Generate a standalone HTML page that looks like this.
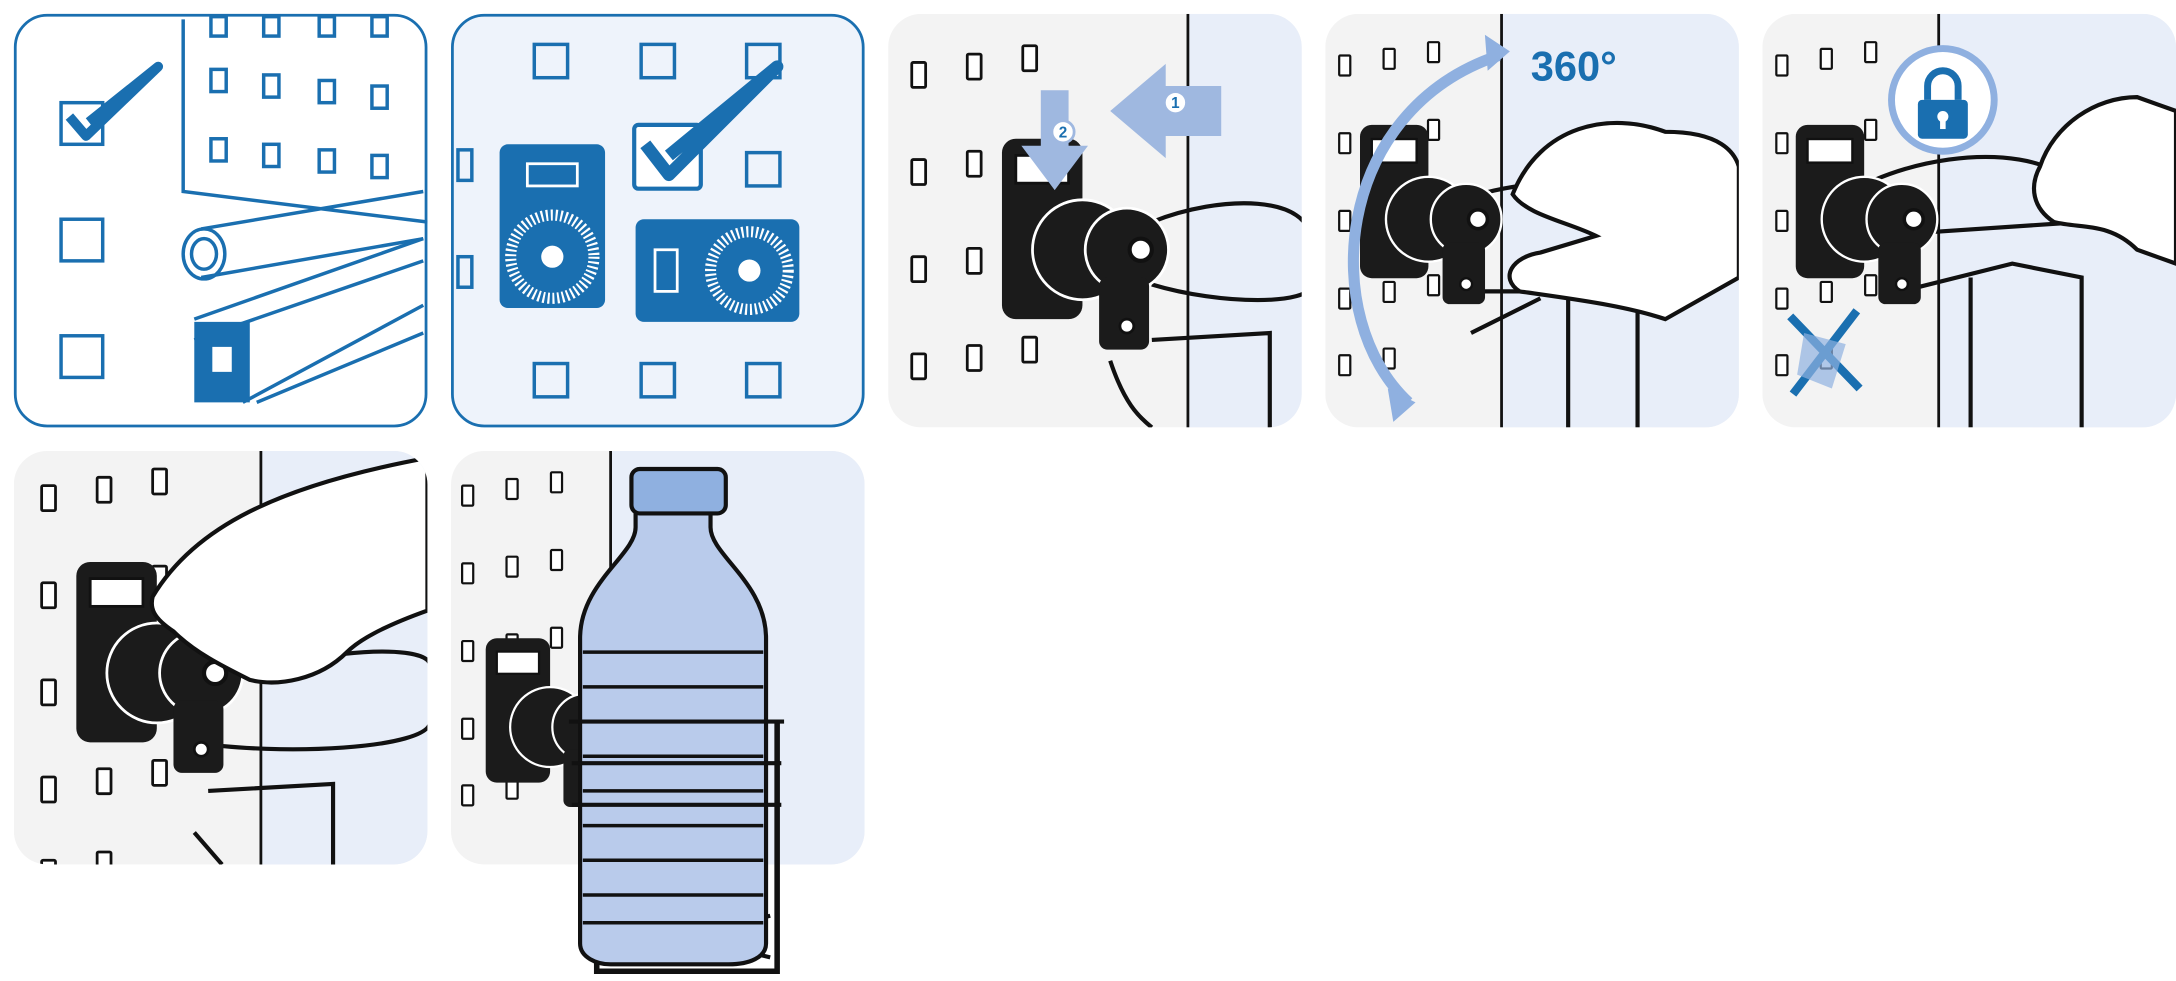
<!DOCTYPE html>
<html><head><meta charset="utf-8"><style>
html,body{margin:0;padding:0;background:#fff;width:2176px;height:981px;overflow:hidden}
svg{display:block}
</style></head><body>
<svg width="2176" height="981" viewBox="0 0 1568 707" preserveAspectRatio="none" xmlns="http://www.w3.org/2000/svg">
<defs>
<clipPath id="c1"><rect x="10" y="10" width="298" height="298" rx="24"/></clipPath>
<clipPath id="c2"><rect x="325" y="10" width="298" height="298" rx="24"/></clipPath>
<clipPath id="c3"><rect x="640" y="10" width="298" height="298" rx="24"/></clipPath>
<clipPath id="c4"><rect x="955" y="10" width="298" height="298" rx="24"/></clipPath>
<clipPath id="c5"><rect x="1270" y="10" width="298" height="298" rx="24"/></clipPath>
<clipPath id="c6"><rect x="10" y="325" width="298" height="298" rx="24"/></clipPath>
<clipPath id="c7"><rect x="325" y="325" width="298" height="298" rx="24"/></clipPath>
<g id="holes" fill="#fff" stroke="#111" stroke-width="2">
<rect x="0" y="0" width="10" height="18" rx="1"/><rect x="40" y="-6" width="10" height="18" rx="1"/><rect x="80" y="-12" width="10" height="18" rx="1"/>
<rect x="0" y="70" width="10" height="18" rx="1"/><rect x="40" y="64" width="10" height="18" rx="1"/><rect x="80" y="58" width="10" height="18" rx="1"/>
<rect x="0" y="140" width="10" height="18" rx="1"/><rect x="40" y="134" width="10" height="18" rx="1"/><rect x="80" y="128" width="10" height="18" rx="1"/>
<rect x="0" y="210" width="10" height="18" rx="1"/><rect x="40" y="204" width="10" height="18" rx="1"/><rect x="80" y="198" width="10" height="18" rx="1"/>
<rect x="0" y="270" width="10" height="18" rx="1"/><rect x="40" y="264" width="10" height="18" rx="1"/>
</g>
<g id="dev">
<rect x="0" y="0" width="58" height="130" rx="10" fill="#1b1b1b"/>
<rect x="10" y="12" width="38" height="20" fill="#fff" stroke="#111" stroke-width="2"/>
<circle cx="58" cy="80" r="36" fill="#1b1b1b" stroke="#fff" stroke-width="2"/>
<circle cx="90" cy="80" r="30" fill="#1b1b1b" stroke="#fff" stroke-width="2"/>
<circle cx="100" cy="80" r="8" fill="#fff" stroke="#111" stroke-width="3"/>
<rect x="70" y="100" width="36" height="52" rx="6" fill="#1b1b1b"/>
<circle cx="90" cy="135" r="5" fill="#fff" stroke="#111" stroke-width="2"/>
</g>
</defs>

<!-- Panel 1 -->
<g clip-path="url(#c1)">
<rect x="10" y="10" width="298" height="298" fill="#fff"/>
<g fill="none" stroke="#1a6fb0" stroke-width="2.5">
<path d="M132 14 V138 L308 160"/>
<rect x="152" y="12" width="11" height="14"/><rect x="190" y="12" width="11" height="14"/><rect x="230" y="12" width="11" height="14"/><rect x="268" y="12" width="11" height="14"/>
<rect x="152" y="50" width="11" height="16"/><rect x="190" y="54" width="11" height="16"/><rect x="230" y="58" width="11" height="16"/><rect x="268" y="62" width="11" height="16"/>
<rect x="152" y="100" width="11" height="16"/><rect x="190" y="104" width="11" height="16"/><rect x="230" y="108" width="11" height="16"/><rect x="268" y="112" width="11" height="16"/>
<path d="M145 165 L305 138 M145 200 L305 172"/>
<ellipse cx="147" cy="183" rx="15" ry="18"/><ellipse cx="147" cy="183" rx="9" ry="11"/>
<path d="M140 230 L305 172 M140 245 L305 188 M175 290 L305 220 M185 290 L305 240"/>
</g>
<path d="M140 232 h40 v58 h-40z" fill="#1a6fb0"/>
<rect x="153" y="250" width="14" height="18" fill="#fff"/>
<g fill="#fff" stroke="#1a6fb0" stroke-width="2.5">
<rect x="44" y="74" width="30" height="30"/><rect x="44" y="158" width="30" height="30"/><rect x="44" y="242" width="30" height="30"/>
</g>
<path d="M50 84 L62 98 L114 48 L64 88" fill="none" stroke="#1a6fb0" stroke-width="7" stroke-linejoin="round"/>
</g>
<rect x="11" y="11" width="296" height="296" rx="23" fill="none" stroke="#1a6fb0" stroke-width="2"/>

<!-- Panel 2 -->
<g clip-path="url(#c2)">
<rect x="325" y="10" width="298" height="298" fill="#eef3fb"/>
<g fill="none" stroke="#1a6fb0" stroke-width="2.5">
<rect x="385" y="32" width="24" height="24"/><rect x="462" y="32" width="24" height="24"/><rect x="538" y="32" width="24" height="24"/>
<rect x="538" y="110" width="24" height="24"/>
<rect x="385" y="262" width="24" height="24"/><rect x="462" y="262" width="24" height="24"/><rect x="538" y="262" width="24" height="24"/>
<rect x="330" y="108" width="10" height="22"/><rect x="330" y="185" width="10" height="22"/>
</g>
<rect x="360" y="104" width="76" height="118" rx="6" fill="#1a6fb0"/>
<rect x="380" y="118" width="36" height="16" fill="none" stroke="#fff" stroke-width="2"/>
<circle cx="398" cy="185" r="30" fill="none" stroke="#fff" stroke-width="8" stroke-dasharray="1.5 2"/>
<circle cx="398" cy="185" r="8" fill="#fff"/>
<rect x="458" y="158" width="118" height="74" rx="6" fill="#1a6fb0"/>
<rect x="472" y="180" width="16" height="30" fill="none" stroke="#fff" stroke-width="2"/>
<circle cx="540" cy="195" r="28" fill="none" stroke="#fff" stroke-width="8" stroke-dasharray="1.5 2"/>
<circle cx="540" cy="195" r="8" fill="#fff"/>
<rect x="457" y="90" width="48" height="46" rx="3" fill="#fff" stroke="#1a6fb0" stroke-width="3"/>
<path d="M465 104 L482 126 L560 48 L482 112" fill="none" stroke="#1a6fb0" stroke-width="9" stroke-linejoin="round"/>
</g>
<rect x="326" y="11" width="296" height="296" rx="23" fill="none" stroke="#1a6fb0" stroke-width="2"/>

<!-- Panel 3 -->
<g clip-path="url(#c3)">
<rect x="640" y="10" width="298" height="298" fill="#f3f3f3"/>
<rect x="856" y="10" width="90" height="298" fill="#e8eef9"/>
<line x1="856" y1="10" x2="856" y2="308" stroke="#111" stroke-width="2"/>
<use href="#holes" transform="translate(657,45)"/>
<path d="M830 160 C880 140 945 140 945 175 M830 205 C880 220 945 220 945 205 M830 245 L915 240 V308 M800 260 C810 290 820 300 830 308" fill="none" stroke="#111" stroke-width="3"/>
<use href="#dev" transform="translate(722,100)"/>
<path d="M750 65 h20 v40 h14 l-24 32 l-24 -32 h14z" fill="#9fb8e0"/>
<circle cx="766" cy="95" r="8" fill="#fff" stroke="#9fb8e0" stroke-width="2"/><text x="766" y="99" font-family="Liberation Sans" font-size="11" font-weight="bold" fill="#1a6fb0" text-anchor="middle">2</text>
<path d="M880 62 v36 h-40 v16 l-40 -34 l40 -34 v16z" fill="#9fb8e0"/>
<circle cx="847" cy="74" r="8" fill="#fff" stroke="#9fb8e0" stroke-width="2"/><text x="847" y="78" font-family="Liberation Sans" font-size="11" font-weight="bold" fill="#1a6fb0" text-anchor="middle">1</text>
</g>

<!-- Panel 4 -->
<g clip-path="url(#c4)">
<rect x="955" y="10" width="298" height="298" fill="#f3f3f3"/>
<rect x="1082" y="10" width="180" height="298" fill="#e8eef9"/>
<line x1="1082" y1="10" x2="1082" y2="308" stroke="#111" stroke-width="2"/>
<use href="#holes" transform="translate(965,40) scale(0.8)"/>
<path d="M1040 150 C1100 120 1200 130 1190 160 M1040 210 L1180 210 V308 M1060 240 L1110 215 M1130 215 V308" fill="none" stroke="#111" stroke-width="3"/>
<use href="#dev" transform="translate(980,90) scale(0.85)"/>
<path d="M1090 140 C1110 90 1160 80 1200 95 C1240 95 1250 110 1253 120 V200 L1200 230 C1170 220 1130 215 1095 210 C1080 200 1090 185 1110 182 L1150 170 C1130 160 1100 155 1090 140Z" fill="#fff" stroke="#111" stroke-width="3"/>
<path d="M1015 290 C950 230 960 80 1080 40" fill="none" stroke="#8fb0e0" stroke-width="8"/>
<path d="M1070 25 l18 12 -16 14z M1000 280 l20 10 -16 14z" fill="#8fb0e0"/>
<text x="1103" y="58" font-family="Liberation Sans" font-size="30" font-weight="bold" fill="#1a6fb0">360°</text>
</g>

<!-- Panel 5 -->
<g clip-path="url(#c5)">
<rect x="1270" y="10" width="298" height="298" fill="#f3f3f3"/>
<rect x="1397" y="10" width="180" height="298" fill="#e8eef9"/>
<line x1="1397" y1="10" x2="1397" y2="308" stroke="#111" stroke-width="2"/>
<use href="#holes" transform="translate(1280,40) scale(0.8)"/>
<path d="M1350 130 C1420 100 1510 110 1500 160 M1350 170 L1500 160 M1370 210 L1450 190 L1500 200 V308 M1420 200 V308" fill="none" stroke="#111" stroke-width="3"/>
<use href="#dev" transform="translate(1294,90) scale(0.85)"/>
<path d="M1470 120 C1480 90 1510 70 1540 70 L1568 80 V190 L1540 180 C1520 160 1500 165 1480 160 C1465 150 1462 135 1470 120Z" fill="#fff" stroke="#111" stroke-width="3"/>
<circle cx="1400" cy="72" r="37" fill="#fff" stroke="#8fb0e0" stroke-width="5"/>
<rect x="1382" y="72" width="36" height="28" rx="3" fill="#1a6fb0"/>
<path d="M1389 72 v-10 a11 11 0 0 1 22 0 v10" fill="none" stroke="#1a6fb0" stroke-width="5"/>
<circle cx="1400" cy="84" r="4" fill="#fff"/><rect x="1398" y="84" width="4" height="9" fill="#fff"/>
<path d="M1290 228 L1340 280 M1338 224 L1292 284" stroke="#1a6fb0" stroke-width="6"/>
<path d="M1300 240 L1330 248 L1320 280 L1295 270Z" fill="#8fb0e0" opacity="0.7"/>
</g>

<!-- Panel 6 -->
<g clip-path="url(#c6)">
<rect x="10" y="325" width="298" height="298" fill="#f3f3f3"/>
<rect x="188" y="325" width="130" height="298" fill="#e8eef9"/>
<line x1="188" y1="325" x2="188" y2="623" stroke="#111" stroke-width="2"/>
<use href="#holes" transform="translate(30,350)"/>
<path d="M140 500 C200 470 310 460 310 480 M140 535 C200 545 310 540 310 520 M150 570 L240 565 V623 M140 600 L160 623" fill="none" stroke="#111" stroke-width="3"/>
<use href="#dev" transform="translate(55,405)"/>
<path d="M110 430 C140 380 200 350 308 330 V440 C280 450 260 460 250 470 C230 490 200 495 180 490 C160 480 140 470 125 455 C110 445 108 438 110 430Z" fill="#fff" stroke="#111" stroke-width="3"/>
</g>

<!-- Panel 7 -->
<g clip-path="url(#c7)">
<rect x="325" y="325" width="298" height="298" fill="#f3f3f3"/>
<rect x="440" y="325" width="190" height="298" fill="#e8eef9"/>
<line x1="440" y1="325" x2="440" y2="623" stroke="#111" stroke-width="2"/>
<use href="#holes" transform="translate(333,350) scale(0.8)"/>
<use href="#dev" transform="translate(350,460) scale(0.8)"/>
</g>
<path d="M430 520 V700 H560 V520" fill="none" stroke="#111" stroke-width="4"/>
<path d="M432 690 L555 660 M432 660 L555 690" stroke="#111" stroke-width="3"/>
<path d="M458 368 V380 C458 400 418 420 418 460 V680 C418 690 430 695 440 695 H525 C540 695 552 690 552 680 V460 C552 420 512 400 512 380 V368Z" fill="#b9cbeb" stroke="#111" stroke-width="3"/>
<g fill="none" stroke="#111" stroke-width="2.5">
<path d="M420 470 H550 M420 495 H550 M420 520 H550 M420 545 H550 M420 570 H550 M420 595 H550 M420 620 H550 M420 645 H550 M420 665 H550"/>
</g>
<rect x="455" y="338" width="68" height="32" rx="6" fill="#8fb0e0" stroke="#111" stroke-width="3"/>
<path d="M410 520 H565 M412 550 H563 M412 580 H563" stroke="#111" stroke-width="3"/>
</svg>
</body></html>
